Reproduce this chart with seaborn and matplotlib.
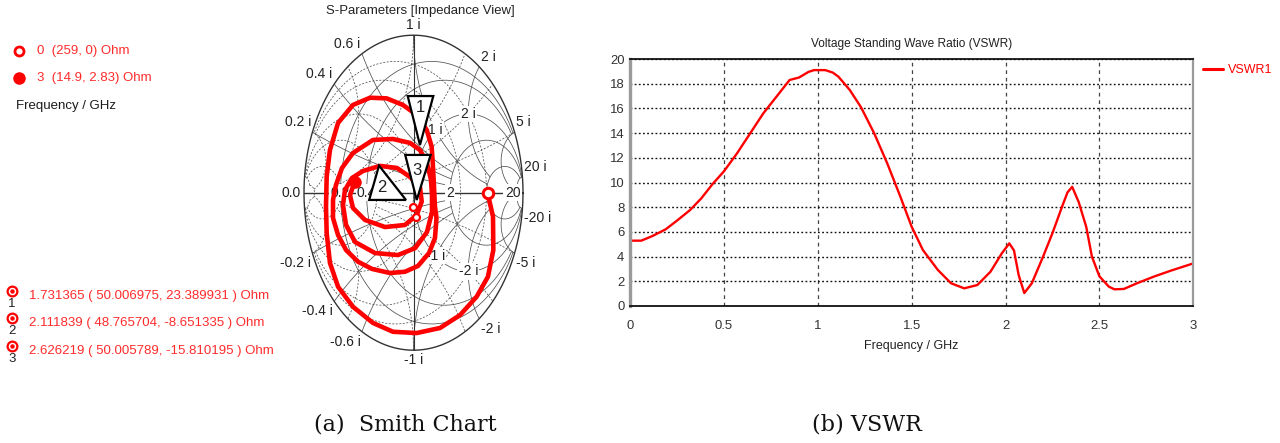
import numpy as np
import pandas as pd
import matplotlib
matplotlib.use("Agg")
import matplotlib.pyplot as plt
import seaborn as sns
from matplotlib import font_manager as fm
from matplotlib.patches import Polygon

# ---------------- data ----------------
Z0 = 50.0

# VSWR curve
freq_ghz = [0.00, 0.06, 0.12, 0.19, 0.25, 0.32, 0.38, 0.44, 0.50, 0.57, 0.64, 0.71, 0.78,
            0.85, 0.90, 0.95, 0.98, 1.04, 1.08, 1.11, 1.17, 1.23, 1.30, 1.37, 1.44, 1.50,
            1.56, 1.64, 1.71, 1.78, 1.85, 1.92, 1.98, 2.02, 2.045, 2.07, 2.10, 2.14, 2.20,
            2.25, 2.30, 2.33, 2.355, 2.39, 2.43, 2.46, 2.50, 2.55, 2.58, 2.63, 2.70, 2.79,
            2.88, 3.00]
vswr = [5.29, 5.29, 5.67, 6.21, 6.91, 7.77, 8.72, 9.88, 10.9, 12.36, 13.98, 15.6, 16.95,
        18.3, 18.5, 18.95, 19.1, 19.1, 18.9, 18.57, 17.5, 16.1, 14.0, 11.55, 8.85, 6.42,
        4.53, 2.91, 1.84, 1.43, 1.70, 2.78, 4.26, 5.07, 4.5, 2.5, 1.05, 1.84, 4.0,
        5.9, 8.0, 9.2, 9.65, 8.4, 6.4, 4.0, 2.4, 1.57, 1.35, 1.38, 1.84, 2.38,
        2.86, 3.45]

# Smith trace: reflection coefficient, 0 GHz -> 3 GHz
gamma_re = [0.676, 0.726, 0.729, 0.680, 0.577, 0.425, 0.242, 0.029, -0.187, -0.370, -0.553,
            -0.689, -0.763, -0.793, -0.799, -0.793, -0.763, -0.689, -0.553, -0.397, -0.245,
            -0.096, 0.029, 0.121, 0.166, 0.178, 0.187, 0.196, 0.210, 0.196, 0.142, 0.041,
            -0.078, -0.215, -0.379, -0.507, -0.616, -0.689, -0.735, -0.735, -0.708, -0.653,
            -0.553, -0.370, -0.187, -0.032, 0.059, 0.123, 0.160, 0.169, 0.169, 0.123, 0.014,
            -0.142, -0.352, -0.534, -0.616, -0.644, -0.626, -0.562, -0.461, -0.306, -0.151,
            -0.032, 0.059, 0.075, 0.029, -0.078, -0.260, -0.443, -0.553, -0.580, -0.538]
gamma_im = [0.000, -0.152, -0.364, -0.533, -0.660, -0.777, -0.859, -0.891, -0.883, -0.827,
            -0.724, -0.597, -0.446, -0.256, -0.089, 0.102, 0.271, 0.443, 0.557, 0.603, 0.599,
            0.557, 0.494, 0.398, 0.292, 0.165, 0.038, -0.089, -0.161, -0.288, -0.383, -0.465,
            -0.502, -0.510, -0.484, -0.438, -0.364, -0.269, -0.161, -0.046, 0.049, 0.157,
            0.252, 0.335, 0.341, 0.316, 0.271, 0.189, 0.081, -0.015, -0.123, -0.250, -0.352,
            -0.396, -0.383, -0.313, -0.205, -0.078, 0.017, 0.093, 0.138, 0.170, 0.157, 0.100,
            0.036, -0.057, -0.142, -0.205, -0.218, -0.173, -0.097, -0.015, 0.067]

start_label, start_R, start_X = "0", 259, 0
end_label, end_R, end_X = "3", 14.9, 2.83

marker_ids = [1, 2, 3]
marker_freq = [1.731365, 2.111839, 2.626219]
marker_R = [50.006975, 48.765704, 50.005789]
marker_X = [23.389931, -8.651335, -15.810195]

circle_values = [0.2, 0.4, 1, 2, 5, 20]
arc_values = [0.2, 0.4, 0.6, 1, 2, 5, 20]
edge_labels = [0.2, 0.4, 0.6, 1, 2, 5, 20]
real_axis_labels = [0.2, 0.4, 2, 20]
inner_labels = [1, 2]

vswr_yticks = list(range(0, 21, 2))
vswr_xticks = [0, 0.5, 1, 1.5, 2, 2.5, 3]
vswr_xticklabels = ["0", "0.5", "1", "1.5", "2", "2.5", "3"]

# ---------------- style ----------------
sns.set_theme(style="white")
names = {f.name for f in fm.fontManager.ttflist}
SANS = "Liberation Sans" if "Liberation Sans" in names else "DejaVu Sans"
NARROW = "Liberation Sans Narrow" if "Liberation Sans Narrow" in names else SANS
NSCALE = 1.0 if NARROW != SANS else 0.9
plt.rcParams["font.family"] = [SANS, "DejaVu Sans"]
SERIF = "DejaVu Serif"

RED = "#ff0000"
RED_TXT = "#ff2b2b"
DARK = "#222222"
GRID = "#505050"

W, H = 1280, 443
fig = plt.figure(figsize=(W / 100, H / 100), dpi=100)

# overlay in pixel coordinates for free text
ov = fig.add_axes([0, 0, 1, 1], zorder=-5)
ov.set_xlim(0, W)
ov.set_ylim(H, 0)
ov.axis("off")

def zgamma(R, X):
    z = complex(R, X) / Z0
    return (z - 1) / (z + 1)

# ---------- left info texts ----------
ov.plot(19, 50.5, "o", ms=6.5, mfc="white", mec=RED, mew=2)
ov.text(37, 50.5, f"{start_label}  ({start_R:g}, {start_X:g}) Ohm", color=RED_TXT,
        fontsize=9.5, va="center")
ov.plot(19, 78, "o", ms=8, color=RED)
ov.text(37, 78, f"{end_label}  ({end_R:g}, {end_X:g}) Ohm", color=RED_TXT,
        fontsize=9.5, va="center")
ov.text(16, 106, "Frequency / GHz", color="#1a1a1a", fontsize=9.5, va="center")

for i, (k, f, R, X) in enumerate(zip(marker_ids, marker_freq, marker_R, marker_X)):
    y = 296 + i * 27.3
    ov.plot(12, y - 5, "o", ms=7, mfc="white", mec=RED, mew=1.6)
    ov.plot(12, y - 5, "o", ms=2.2, color=RED)
    ov.text(12, y + 8, str(k), ha="center", va="center", fontsize=9.5, color=DARK)
    ov.text(29, y, f"{f:.6f} ( {R:.6f}, {X:.6f} ) Ohm", color=RED_TXT,
            fontsize=9.5, va="center")

# captions
ov.text(405, 425, "(a)  Smith Chart", family=SERIF, fontsize=16, ha="center",
        va="center", color="#111111")
ov.text(867, 425, "(b) VSWR", family=SERIF, fontsize=16, ha="center",
        va="center", color="#111111")
ov.text(420, 11, "S-Parameters [Impedance View]", family=NARROW, fontsize=10.5 * NSCALE,
        ha="center", va="center", color=DARK)

# ---------------- Smith chart ----------------
cx, cy, rx, ry = 413.5, 192.7, 109.5, 157.5
padf = 1.03
sax = fig.add_axes([(cx - rx * padf) / W, (H - cy - ry * padf) / H,
                    2 * rx * padf / W, 2 * ry * padf / H])
sax.set_xlim(-padf, padf)
sax.set_ylim(-padf, padf)
sax.axis("off")

t = np.linspace(0, 2 * np.pi, 1441)

def clip_grid(x, y, rmax=np.inf, xmax=np.inf):
    x = np.asarray(x, float).copy()
    y = np.asarray(y, float).copy()
    g = x + 1j * y
    with np.errstate(all="ignore"):
        z = (1 + g) / (1 - g)
    bad = (np.abs(g) > 1.0001) | (z.real > rmax) | (np.abs(z.imag) > xmax)
    x[bad] = np.nan
    y[bad] = np.nan
    return x, y

for sgn, ls in [(1, "-"), (-1, (0, (2.6, 2.0)))]:
    # resistance / conductance circles, stopped at an outer reactance arc
    for v in circle_values:
        c, rad = v / (1 + v), 1 / (1 + v)
        xx, yy = clip_grid(c + rad * np.cos(t), rad * np.sin(t),
                           xmax=5 if v < 1 else 20)
        sax.plot(sgn * xx, sgn * yy, color=GRID, lw=0.55, ls=ls, zorder=1)
    # reactance / susceptance arcs, stopped at an outer resistance circle
    for v in arc_values:
        rmax = 2 if v < 1 else (5 if v <= 2 else 20)
        for s in (1, -1):
            xx, yy = clip_grid(1 + (1 / v) * np.cos(t), s / v + (1 / v) * np.sin(t),
                               rmax=rmax)
            sax.plot(sgn * xx, sgn * yy, color=GRID, lw=0.55, ls=ls, zorder=1)

sax.plot(np.cos(t), np.sin(t), color="#333333", lw=1.0, zorder=1.5)
sax.plot([-1, 1], [0, 0], color="#333333", lw=1.0, zorder=1.5)
sax.plot([0, 0], [-1, 1], color="#333333", lw=0.8, zorder=1.5)

lab_kw = dict(fontsize=10, color=DARK, zorder=2)
for v in edge_labels:
    for s in (1, -1):
        g = zgamma(0, s * v * Z0)
        c, sn = g.real, g.imag
        ha = "right" if c < -0.2 else ("left" if c > 0.2 else "center")
        va = "bottom" if sn > 0.05 else ("top" if sn < -0.05 else "center")
        off = (np.sign(c) * 1.5 if abs(c) > 0.2 else 0, np.sign(sn) * 3)
        txt = f"{v:g} i" if s > 0 else f"-{v:g} i"
        sax.annotate(txt, (c, sn), xytext=off, textcoords="offset pixels",
                     ha=ha, va=va, annotation_clip=False, **lab_kw)
sax.annotate(f"{0:.1f}", (-1, 0), xytext=(-3, 0), textcoords="offset pixels",
             ha="right", va="center", annotation_clip=False, **lab_kw)
for r in real_axis_labels:
    g = zgamma(r * Z0, 0)
    sax.text(g.real, 0, f"{r:g}", ha="center", va="center",
             bbox=dict(boxstyle="square,pad=0.1", fc="white", ec="none"), **lab_kw)
for v in inner_labels:
    for s in (1, -1):
        g = zgamma(Z0, s * v * Z0)
        sax.text(g.real, g.imag, f"{v:g} i" if s > 0 else f"-{v:g} i",
                 ha="center", va="center",
                 bbox=dict(boxstyle="square,pad=0.1", fc="white", ec="none"), **lab_kw)

trace = pd.DataFrame({"re": gamma_re, "im": gamma_im})
sns.lineplot(data=trace, x="re", y="im", sort=False, estimator=None, ax=sax,
             color=RED, lw=3.3, solid_joinstyle="round", solid_capstyle="round", zorder=3)
sax.set_xlim(-padf, padf)
sax.set_ylim(-padf, padf)
sax.set_xlabel("")
sax.set_ylabel("")

g0 = zgamma(start_R, start_X)
g3 = zgamma(end_R, end_X)
sax.plot(g0.real, g0.imag, "o", ms=7.5, mfc="white", mec=RED, mew=2.2, zorder=5)
sax.plot(g3.real, g3.imag, "o", ms=8, color=RED, zorder=5)

mg = [zgamma(R, X) for R, X in zip(marker_R, marker_X)]
for g in mg:
    sax.plot(g.real, g.imag, "o", ms=5, mfc="white", mec=RED, mew=1.6, zorder=4)

# marker flags (shape offsets in reflection-coefficient units)
tri_shapes = {1: [(-0.105, 0.392), (0.129, 0.392), (0.007, 0.081)],
              2: [(-0.31, 0.26), (-0.40, 0.042), (-0.064, 0.042)],
              3: [(-0.10, 0.394), (0.132, 0.394), (0.005, 0.108)]}
tri_text = {1: (0.007, 0.322), 2: (-0.283, 0.124), 3: (0.007, 0.298)}
for k, g in zip(marker_ids, mg):
    pts = [(g.real + dx, g.imag + dy) for dx, dy in tri_shapes[k]]
    sax.add_patch(Polygon(pts, closed=True, fc="white", ec="black", lw=1.6, zorder=6))
    dx, dy = tri_text[k]
    sax.text(g.real + dx, g.imag + dy, str(k), ha="center", va="center", fontsize=12,
             color=DARK, zorder=7)

# ---------------- VSWR ----------------
vax = fig.add_axes([630 / W, (H - 306) / H, 563.3 / W, 247 / H])
df = pd.DataFrame({"Frequency": freq_ghz, "VSWR": vswr})
sns.lineplot(data=df, x="Frequency", y="VSWR", ax=vax, color=RED, lw=1.7, label="VSWR1")
vax.set_xlim(0, 3)
vax.set_ylim(0, 20)
vax.set_xticks(vswr_xticks)
vax.set_xticklabels(vswr_xticklabels)
vax.set_yticks(vswr_yticks)
vax.set_axisbelow(True)
vax.yaxis.grid(True, color="#111111", ls=(0, (1.3, 1.7)), lw=1.0)
vax.xaxis.grid(True, color="#444444", ls=(0, (3, 3)), lw=0.9)
for side, col, lw in [("top", "#111111", 1.3), ("bottom", "#111111", 1.3),
                      ("left", "#9a9a9a", 2.4), ("right", "#9a9a9a", 1.6)]:
    vax.spines[side].set_visible(True)
    vax.spines[side].set_color(col)
    vax.spines[side].set_linewidth(lw)
vax.tick_params(axis="x", length=0, pad=10, labelsize=10.5 * NSCALE, labelcolor="#333333")
vax.tick_params(axis="y", length=0, pad=4, labelsize=10.5 * NSCALE, labelcolor="#333333")
for lab in vax.get_xticklabels() + vax.get_yticklabels():
    lab.set_fontfamily(NARROW)
vax.set_title("Voltage Standing Wave Ratio (VSWR)", family=NARROW, fontsize=9.5 * NSCALE,
              color=DARK, pad=9)
vax.set_xlabel("Frequency / GHz", family=NARROW, fontsize=10 * NSCALE, color=DARK,
               labelpad=6)
vax.set_ylabel("")
vax.legend(loc="upper left", bbox_to_anchor=(1203 / W, 1 - 64 / H),
           bbox_transform=fig.transFigure, frameon=False, handlelength=1.6,
           handletextpad=0.4, borderpad=0, borderaxespad=0, labelcolor=RED,
           prop=fm.FontProperties(family=NARROW, size=10 * NSCALE))
leg = vax.get_legend()
for ln in leg.get_lines():
    ln.set_linewidth(2.2)

fig.savefig("out.png", dpi=100, facecolor="white")
